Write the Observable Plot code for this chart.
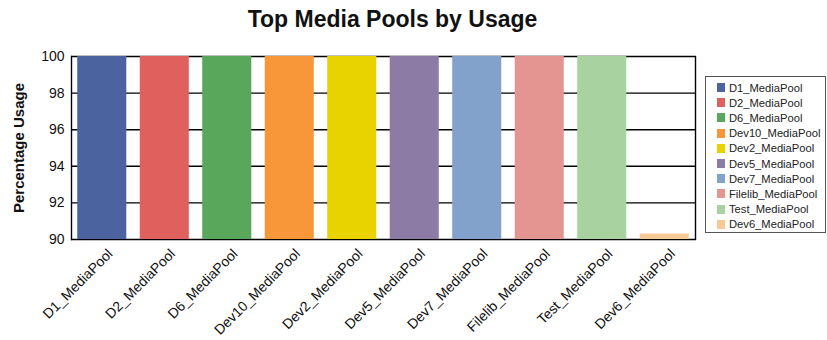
<!DOCTYPE html>
<html><head><meta charset="utf-8">
<script src="https://cdn.jsdelivr.net/npm/d3@7"></script>
<script src="https://cdn.jsdelivr.net/npm/@observablehq/plot@0.6"></script>
<style>
body{margin:0;background:#fff;font-family:"Liberation Sans",Arial,sans-serif;}
#wrap{position:relative;width:827px;height:340px;overflow:hidden;}
#title{position:absolute;left:0;top:8px;width:785px;text-align:center;font-weight:bold;font-size:23px;line-height:23px;color:#111;}
#legend{position:absolute;left:705px;top:76px;width:121px;height:157px;border:1px solid #555;box-sizing:border-box;padding-top:3px;}
.li{display:flex;align-items:center;height:15.2px;font-size:11.2px;color:#222;white-space:nowrap;}
.sw{width:8px;height:9px;margin-left:11px;margin-right:4px;flex:none;}
#chart{position:absolute;left:0;top:38px;}
</style></head>
<body><div id="wrap"><div id="title">Top Media Pools by Usage</div><div id="chart"></div><div id="legend"></div></div>
<script>
const pools = ["D1_MediaPool","D2_MediaPool","D6_MediaPool","Dev10_MediaPool","Dev2_MediaPool","Dev5_MediaPool","Dev7_MediaPool","Filelib_MediaPool","Test_MediaPool","Dev6_MediaPool"];
const usage = [100,100,100,100,100,100,100,100,100,90.3];
const colors = ["#4b64a0","#e0605e","#58a75a","#f7973a","#e8d300","#8c7ba4","#82a2cc","#e49591","#a8d3a0","#f6c996"];
const yTicks = [90,92,94,96,98,100];

const data = pools.map((p,i)=>({pool:p, value:usage[i]}));

const plot = Plot.plot({
  width: 827, height: 302,
  marginLeft: 71, marginRight: 132, marginTop: 18, marginBottom: 101,
  style: {fontFamily: '"Liberation Sans", Arial, sans-serif', fontSize: "12px", color: "#111", background: "transparent", overflow: "visible"},
  x: {domain: pools, paddingInner: 0.215, paddingOuter: 0.1, round: false, label: null},
  y: {domain: [90,100], ticks: yTicks, label: null},
  color: {domain: pools, range: colors},
  marks: [
    Plot.ruleY(yTicks, {stroke: "#000", strokeWidth: 1.4}),
    Plot.barY(data, {x: "pool", y1: 90, y2: "value", fill: "pool"}),
    Plot.frame({anchor: "left", stroke: "#000", strokeWidth: 1.4}),
    Plot.frame({anchor: "right", stroke: "#000", strokeWidth: 1.4}),
    Plot.axisX({tickSize: 0, tickRotate: -45, tickPadding: 12, dx: 8, fontSize: 14, label: null}),
    Plot.axisY({ticks: yTicks, tickSize: 0, tickPadding: 7, fontSize: 14, label: null}),
    Plot.text(["Percentage Usage"], {frameAnchor: "left", dx: -52, rotate: -90, textAnchor: "middle", fontWeight: "bold", fontSize: 15})
  ]
});
document.getElementById("chart").appendChild(plot);

const lg = document.getElementById("legend");
pools.forEach((p,i)=>{
  const d = document.createElement("div"); d.className="li";
  d.innerHTML = `<span class="sw" style="background:${colors[i]}"></span><span>${p}</span>`;
  lg.appendChild(d);
});
</script></body></html>
